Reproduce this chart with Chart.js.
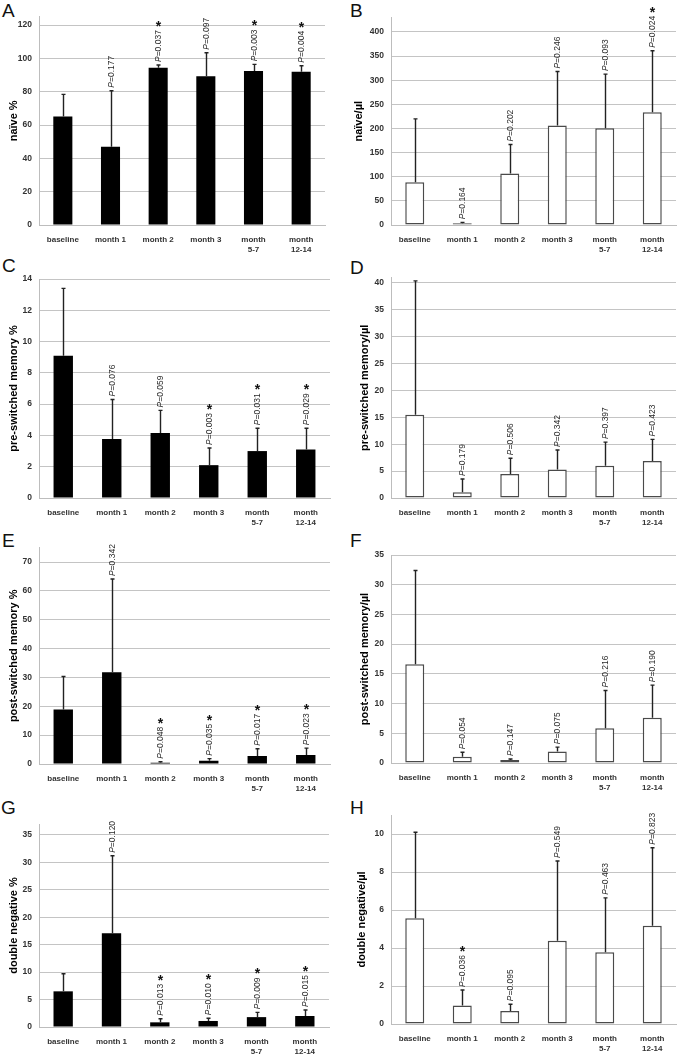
<!DOCTYPE html>
<html>
<head>
<meta charset="utf-8">
<script src="https://cdn.jsdelivr.net/npm/chart.js@4.4.0/dist/chart.umd.min.js"></script>
<style>
  body { margin: 0; width: 685px; height: 1054px; overflow: hidden; background: #fff; position: relative; font-family: "Liberation Sans", Arial, sans-serif; }
  canvas { position: absolute; }
  .letter { position: absolute; font-size: 19px; line-height: 1; color: #111; }
</style>
</head>
<body>
<div class="letter" style="left:2px;top:0.5px">A</div>
<div class="letter" style="left:350px;top:0.5px">B</div>
<div class="letter" style="left:2px;top:255.5px">C</div>
<div class="letter" style="left:350px;top:258px">D</div>
<div class="letter" style="left:2px;top:530.5px">E</div>
<div class="letter" style="left:350px;top:530.5px">F</div>
<div class="letter" style="left:1px;top:797.5px">G</div>
<div class="letter" style="left:350px;top:797.5px">H</div>

<canvas id="cA" width="342" height="262" style="left:0;top:0"></canvas>
<canvas id="cB" width="343" height="262" style="left:342px;top:0"></canvas>
<canvas id="cC" width="342" height="268" style="left:0;top:262px"></canvas>
<canvas id="cD" width="343" height="268" style="left:342px;top:262px"></canvas>
<canvas id="cE" width="342" height="268" style="left:0;top:528px"></canvas>
<canvas id="cF" width="343" height="268" style="left:342px;top:528px"></canvas>
<canvas id="cG" width="342" height="262" style="left:0;top:796px"></canvas>
<canvas id="cH" width="343" height="262" style="left:342px;top:796px"></canvas>

<script>
const categories = ["baseline", "month 1", "month 2", "month 3", ["month", "5-7"], ["month", "12-14"]];

// A - naive %
const naivePct = [65.1, 46.9, 94.3, 89.2, 92.4, 92.0];
const naivePctSd = [13.3, 33.7, 1.7, 14.2, 4.0, 3.6];
const naivePctP = ["", "0.177", "0.037", "0.097", "0.003", "0.004"];
const naivePctStar = [false, false, true, false, true, true];

// B - naive/ul
const naiveAbs = [88.8, 3.4, 106.7, 206, 200.4, 233.5];
const naiveAbsSd = [131.2, 2.1, 60, 112, 112.3, 127.5];
const naiveAbsP = ["", "0.164", "0.202", "0.246", "0.093", "0.024"];
const naiveAbsStar = [false, false, false, false, false, true];

// C - pre-switched memory %
const preSwPct = [9.1, 3.77, 4.15, 2.1, 3.0, 3.1];
const preSwPctSd = [4.3, 2.53, 1.45, 1.1, 1.46, 1.36];
const preSwPctP = ["", "0.076", "0.059", "0.003", "0.031", "0.029"];
const preSwPctStar = [false, false, false, true, true, true];

// D - pre-switched memory/ul
const preSwAbs = [15.47, 1.06, 4.47, 5.28, 6.02, 6.9];
const preSwAbsSd = [24.93, 2.48, 2.93, 3.66, 4.38, 4.0];
const preSwAbsP = ["", "0.179", "0.506", "0.342", "0.397", "0.423"];
const preSwAbsStar = [false, false, false, false, false, false];

// E - post-switched memory %
const postSwPct = [18.9, 31.8, 0.46, 1.16, 2.8, 3.1];
const postSwPctSd = [11.4, 32.3, 0.34, 0.69, 2.5, 2.4];
const postSwPctP = ["", "0.342", "0.048", "0.035", "0.017", "0.023"];
const postSwPctStar = [false, false, true, true, true, true];

// F - post-switched memory/ul
const postSwAbs = [16.6, 1.07, 0.5, 1.94, 5.83, 7.6];
const postSwAbsSd = [15.8, 0.73, 0.17, 0.73, 6.37, 5.5];
const postSwAbsP = ["", "0.054", "0.147", "0.075", "0.216", "0.190"];
const postSwAbsStar = [false, false, false, false, false, false];

// G - double negative %
const dnPct = [6.5, 17.1, 0.85, 1.1, 1.8, 2.0];
const dnPctSd = [3.2, 14.1, 0.65, 0.5, 0.87, 1.1];
const dnPctP = ["", "0.120", "0.013", "0.010", "0.009", "0.015"];
const dnPctStar = [false, false, true, true, true, true];

// H - double negative/ul
const dnAbs = [5.57, 0.98, 0.69, 4.38, 3.78, 5.17];
const dnAbsSd = [4.52, 0.81, 0.35, 4.2, 2.86, 4.11];
const dnAbsP = ["", "0.036", "0.095", "0.549", "0.463", "0.823"];
const dnAbsStar = [false, true, false, false, false, false];

const FONT = "'Liberation Sans', Arial, sans-serif";

// error bars + rotated P labels + stars
const errorBars = {
  id: "errorBars",
  afterDatasetsDraw(chart, args, opts) {
    const ctx = chart.ctx;
    const y = chart.scales.y;
    const vals = chart.data.datasets[0].data;
    chart.getDatasetMeta(0).data.forEach((bar, i) => {
      const x = Math.round(bar.x) + 0.5;
      const yBar = bar.y;
      const yTop = y.getPixelForValue(vals[i] + opts.sd[i]);
      ctx.save();
      ctx.strokeStyle = "#222";
      ctx.lineWidth = 1.4;
      ctx.beginPath();
      ctx.moveTo(x, yBar);
      ctx.lineTo(x, yTop);
      ctx.moveTo(x - 2, yTop);
      ctx.lineTo(x + 2, yTop);
      ctx.stroke();

      let textTop = yTop;
      if (opts.p[i]) {
        ctx.translate(x, yTop - 3);
        ctx.rotate(-Math.PI / 2);
        ctx.fillStyle = "#2a2a2a";
        ctx.textBaseline = "middle";
        ctx.textAlign = "left";
        ctx.font = "italic 8.5px " + FONT;
        ctx.fillText("P", 0, 0.5);
        const w1 = ctx.measureText("P").width;
        ctx.font = "8.5px " + FONT;
        ctx.fillText("=" + opts.p[i], w1, 0.5);
        const w2 = ctx.measureText("=" + opts.p[i]).width;
        ctx.setTransform(1, 0, 0, 1, 0, 0);
        textTop = yTop - 3 - w1 - w2;
      }
      if (opts.star[i]) {
        ctx.fillStyle = "#111";
        ctx.font = "bold 14px " + FONT;
        ctx.textAlign = "center";
        ctx.textBaseline = "alphabetic";
        ctx.fillText("*", x, textTop + 1);
      }
      ctx.restore();
    });
  }
};

function makePanel(id, title, values, sd, p, star, filled, layout) {
  const ctx = document.getElementById(id);
  return new Chart(ctx, {
    type: "bar",
    data: {
      labels: categories,
      datasets: [{
        data: values,
        backgroundColor: filled ? "#000" : "#fff",
        borderColor: filled ? "#000" : "#4a4a4a",
        borderWidth: filled ? 0 : 1.5,
        borderSkipped: false,
        barPercentage: 0.4,
        categoryPercentage: 1
      }]
    },
    options: {
      responsive: false,
      maintainAspectRatio: false,
      animation: false,
      layout: { padding: { top: layout.padTop, right: layout.padRight, left: 0, bottom: 0 } },
      plugins: {
        legend: { display: false },
        tooltip: { enabled: false },
        errorBars: { sd: sd, p: p, star: star }
      },
      scales: {
        x: {
          grid: { display: false, drawTicks: false },
          border: { color: "#bdbdbd", width: 1 },
          ticks: {
            color: "#333",
            font: { family: FONT, size: 8, weight: "bold", lineHeight: 1.25 },
            padding: 10,
            maxRotation: 0,
            autoSkip: false
          },
          afterFit: s => { s.height = layout.xH; }
        },
        y: {
          min: 0,
          max: layout.max,
          grid: { color: "#c4c4c4", lineWidth: 1, drawTicks: false },
          border: { color: "#bdbdbd", width: 1 },
          ticks: {
            stepSize: layout.step,
            color: "#333",
            padding: 7,
            font: { family: FONT, size: 8.5, weight: "bold" }
          },
          afterBuildTicks: s => {
            const t = [];
            for (let v = 0; v <= layout.max + 1e-9; v += layout.step) t.push({ value: v });
            s.ticks = t;
          },
          title: {
            display: true,
            text: title,
            color: "#000",
            font: { family: FONT, size: 11, weight: "bold" },
            padding: { top: layout.titlePad, bottom: 0 }
          },
          afterFit: s => { s.width = layout.yW; }
        }
      }
    },
    plugins: [errorBars]
  });
}

makePanel("cA", "naïve %", naivePct, naivePctSd, naivePctP, naivePctStar, true,
  { max: 125, step: 20, yW: 39, padTop: 16.7, padRight: 17, xH: 37, titlePad: 7 });
makePanel("cB", "naïve/µl", naiveAbs, naiveAbsSd, naiveAbsP, naiveAbsStar, false,
  { max: 430, step: 50, yW: 49, padTop: 17.5, padRight: 9, xH: 37, titlePad: 10 });
makePanel("cC", "pre-switched memory %", preSwPct, preSwPctSd, preSwPctP, preSwPctStar, true,
  { max: 14, step: 2, yW: 39, padTop: 17, padRight: 12, xH: 32, titlePad: 7 });
makePanel("cD", "pre-switched memory/µl", preSwAbs, preSwAbsSd, preSwAbsP, preSwAbsStar, false,
  { max: 41, step: 5, yW: 49, padTop: 15.6, padRight: 9, xH: 32, titlePad: 16 });
makePanel("cE", "post-switched memory %", postSwPct, postSwPctSd, postSwPctP, postSwPctStar, true,
  { max: 75, step: 10, yW: 39, padTop: 19.6, padRight: 12, xH: 32, titlePad: 7.5 });
makePanel("cF", "post-switched memory/µl", postSwAbs, postSwAbsSd, postSwAbsP, postSwAbsStar, false,
  { max: 35, step: 5, yW: 49, padTop: 27, padRight: 9, xH: 33, titlePad: 16 });
makePanel("cG", "double negative %", dnPct, dnPctSd, dnPctP, dnPctStar, true,
  { max: 37, step: 5, yW: 39, padTop: 28, padRight: 13, xH: 31, titlePad: 7.5 });
makePanel("cH", "double negative/µl", dnAbs, dnAbsSd, dnAbsP, dnAbsStar, false,
  { max: 11, step: 2, yW: 49, padTop: 19, padRight: 9, xH: 34, titlePad: 13 });
</script>
</body>
</html>
